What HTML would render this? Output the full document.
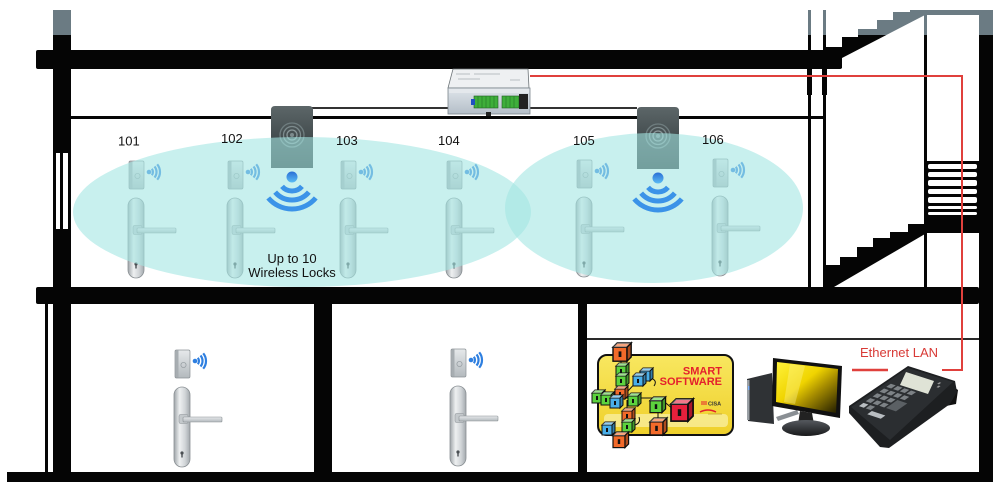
<!DOCTYPE html>
<html><head><meta charset="utf-8">
<style>html,body{margin:0;padding:0;background:#fff;width:1000px;height:488px;overflow:hidden}svg{display:block}</style>
</head>
<body>
<svg width="1000" height="488" viewBox="0 0 1000 488" xmlns="http://www.w3.org/2000/svg" xmlns:xlink="http://www.w3.org/1999/xlink" font-family="'Liberation Sans', Arial, sans-serif">
<defs>
 <linearGradient id="st" gradientUnits="userSpaceOnUse" x1="0" y1="0" x2="0" y2="488">
  <stop offset="0.0717" stop-color="#6b7b83"/><stop offset="0.0717" stop-color="#050505"/>
 </linearGradient>
 <linearGradient id="silH" x1="0" y1="0" x2="1" y2="0">
  <stop offset="0" stop-color="#9ea4a8"/><stop offset="0.35" stop-color="#eef0f1"/><stop offset="0.7" stop-color="#d0d4d7"/><stop offset="1" stop-color="#a3a9ad"/>
 </linearGradient>
 <linearGradient id="silV" x1="0" y1="0" x2="0" y2="1">
  <stop offset="0" stop-color="#e6e9eb"/><stop offset="1" stop-color="#b3b9bd"/>
 </linearGradient>
 <linearGradient id="blue" x1="0" y1="0" x2="0" y2="1">
  <stop offset="0" stop-color="#2a6fd6"/><stop offset="1" stop-color="#5bbcf4"/>
 </linearGradient>
 <linearGradient id="rdr" x1="0" y1="0" x2="0" y2="1">
  <stop offset="0" stop-color="#5c6668"/><stop offset="1" stop-color="#2c3436"/>
 </linearGradient>
 <linearGradient id="card" x1="0" y1="0" x2="0" y2="1">
  <stop offset="0" stop-color="#f8e760"/><stop offset="1" stop-color="#efd02a"/>
 </linearGradient>
 <linearGradient id="scr" x1="0" y1="0" x2="1" y2="1">
  <stop offset="0" stop-color="#fff23a"/><stop offset="0.42" stop-color="#f0d400"/><stop offset="0.62" stop-color="#a88e00"/><stop offset="1" stop-color="#1e1a00"/>
 </linearGradient>
 <linearGradient id="base" x1="0" y1="0" x2="0" y2="1">
  <stop offset="0" stop-color="#55595e"/><stop offset="1" stop-color="#18191b"/>
 </linearGradient>
 <linearGradient id="ctl" x1="0" y1="0" x2="0" y2="1">
  <stop offset="0" stop-color="#dfe5ea"/><stop offset="1" stop-color="#b4bec8"/>
 </linearGradient>

 <g id="lock">
   <rect x="1" y="-37" width="15" height="28" rx="1.5" fill="url(#silV)" stroke="#8c9296" stroke-width="0.7"/>
   <rect x="1.5" y="-36.5" width="3" height="27" fill="#a7adb1"/>
   <circle cx="9.5" cy="-22" r="2.6" fill="none" stroke="#9aa1a5" stroke-width="0.8"/>
   <circle cx="21" cy="-26" r="2.3" fill="#2e7fe0"/>
   <path d="M23.8,-29.2 A5,5 0 0 1 23.8,-22.8 M26.5,-31.5 A8.5,8.5 0 0 1 26.5,-20.5 M29.2,-33.7 A12,12 0 0 1 29.2,-18.3" fill="none" stroke="#2e7fe0" stroke-width="2.2"/>
   <rect x="0" y="0" width="16" height="80" rx="8" fill="url(#silH)" stroke="#8a9094" stroke-width="0.8"/>
   <rect x="5" y="27.5" width="9" height="9" rx="1.5" fill="#c4c9cc" stroke="#8a9094" stroke-width="0.5"/>
   <rect x="9" y="30" width="39" height="5" rx="1" fill="url(#silV)" stroke="#8a9094" stroke-width="0.6"/>
   <circle cx="8" cy="66" r="1.6" fill="#4a4f53"/>
   <rect x="7.3" y="66" width="1.4" height="4.5" fill="#4a4f53"/>
 </g>

 <g id="bigr">
   <path d="M0,4 Q0,0 4,0 L38,0 Q42,0 42,4 L42,62 L0,62 Z" fill="url(#rdr)"/>
   <circle cx="21" cy="29" r="12" fill="none" stroke="#6f7d7f" stroke-width="1.3"/>
   <circle cx="21" cy="29" r="8.5" fill="none" stroke="#7d8b8d" stroke-width="1.3"/>
   <circle cx="21" cy="29" r="5" fill="none" stroke="#8a9799" stroke-width="1.3"/>
   <circle cx="21" cy="29" r="2" fill="#7d8b8d"/>
 </g>

 <g id="bw">
   <circle cx="0" cy="-1" r="5.5" fill="url(#blue)"/>
   <path d="M9.96,8.36 A13,13 0 0 1 -9.96,8.36 M16.85,14.14 A22,22 0 0 1 -16.85,14.14 M23.75,19.93 A31,31 0 0 1 -23.75,19.93" fill="none" stroke="#3b93e8" stroke-width="5"/>
 </g>

 <g id="cube">
   <rect x="0" y="3" width="10" height="10" stroke="#111" stroke-width="1"/>
   <path d="M0,3 L3,0 L13,0 L10,3 Z" stroke="#111" stroke-width="1"/>
   <path d="M0,3 L3,0 L13,0 L10,3 Z" fill="#fff" fill-opacity="0.4"/>
   <path d="M10,3 L13,0 L13,10 L10,13 Z" stroke="#111" stroke-width="1"/>
   <path d="M10,3 L13,0 L13,10 L10,13 Z" fill="#000" fill-opacity="0.28"/>
   <rect x="4" y="6" width="2" height="4" fill="#111"/>
 </g>
</defs>

<rect width="1000" height="488" fill="#fff"/>

<!-- ===== structure ===== -->
<g fill="url(#st)">
  <rect x="53" y="10" width="18" height="472"/>
  <rect x="36" y="50" width="806" height="19" rx="2"/>
  <rect x="71" y="116" width="754" height="3"/>
  <!-- double vertical lines -->
  <rect x="808" y="10" width="3" height="278"/>
  <rect x="823" y="10" width="3" height="278"/>
  <rect x="807" y="68" width="5" height="27"/>
  <rect x="822" y="68" width="5" height="27"/>
  <!-- upper stair -->
  <polygon points="825,47 842,47 842,37 858,37 858,29 877,29 877,20 893,20 893,12 910,12 910,10 925,10 925,15 842,58 842,68 825,68"/>
  <rect x="910" y="10" width="83" height="5"/>
  <rect x="924" y="13" width="3" height="275"/>
  <rect x="979" y="10" width="14" height="472"/>
  <!-- grille -->
  <rect x="925" y="161" width="54" height="72"/>
  <!-- lower stair -->
  <polygon points="824,287 824,265 840,265 840,257 857,257 857,247 873,247 873,238 890,238 890,232 908,232 908,224 925,224 925,234 834,287"/>
  <!-- middle slab -->
  <rect x="36" y="287" width="943" height="17" rx="2"/>
  <rect x="45" y="303" width="3" height="170"/>
  <rect x="7" y="472" width="986" height="10"/>
  <rect x="314" y="303" width="18" height="170"/>
  <rect x="578" y="303" width="9" height="170"/>
</g>
<!-- grille slits -->
<g fill="#fff">
  <rect x="928" y="164" width="49" height="5" rx="2"/>
  <rect x="928" y="172" width="49" height="5" rx="2"/>
  <rect x="928" y="180" width="49" height="6" rx="2"/>
  <rect x="928" y="189" width="49" height="5" rx="2"/>
  <rect x="928" y="197" width="49" height="6" rx="2"/>
  <rect x="928" y="206" width="49" height="3" rx="1.5"/>
  <rect x="928" y="212" width="49" height="3" rx="1.5"/>
</g>
<!-- window slits left -->
<rect x="56" y="153" width="4" height="76" fill="#fff"/>
<rect x="63" y="153" width="5" height="76" fill="#fff"/>

<!-- lower right room line -->
<rect x="587" y="338" width="392" height="2" fill="#2a2a2a"/>

<!-- cable lines -->
<rect x="312" y="107" width="136" height="2" fill="#333"/>
<rect x="529" y="107" width="108" height="2" fill="#333"/>

<!-- controller -->
<g>
  <path d="M453,69 L528,69 L529,88 L448,88 Z" fill="#eef0f2" stroke="#6d7478" stroke-width="0.8"/>
  <path d="M456,74 L470,74 M474,74 L500,74 M458,79 L480,79 M510,80 L520,80" stroke="#a7adb2" stroke-width="0.8"/>
  <rect x="448" y="88" width="82" height="26" fill="url(#ctl)" stroke="#7c858c" stroke-width="0.8"/>
  <rect x="449" y="89" width="80" height="4" fill="#e4e8ec"/>
  <rect x="474" y="96" width="24" height="12" fill="#3eae3a" stroke="#1f5e1f" stroke-width="0.6"/>
  <rect x="502" y="96" width="17" height="12" fill="#3eae3a" stroke="#1f5e1f" stroke-width="0.6"/>
  <path d="M478,96 V108 M482,96 V108 M486,96 V108 M490,96 V108 M494,96 V108 M506,96 V108 M510,96 V108 M514,96 V108" stroke="#2a7d28" stroke-width="0.7"/>
  <rect x="519" y="94" width="9" height="15" fill="#222"/>
  <rect x="471" y="99" width="4" height="6" fill="#2050c0"/>
  <rect x="486" y="112" width="5" height="4" fill="#222"/>
</g>

<!-- locks upper -->
<use xlink:href="#lock" href="#lock" x="128" y="198"/>
<use xlink:href="#lock" href="#lock" x="227" y="198"/>
<use xlink:href="#lock" href="#lock" x="340" y="198"/>
<use xlink:href="#lock" href="#lock" x="446" y="198"/>
<use xlink:href="#lock" href="#lock" x="576" y="197"/>
<use xlink:href="#lock" href="#lock" x="712" y="196"/>
<!-- locks lower -->
<use xlink:href="#lock" href="#lock" x="174" y="387"/>
<use xlink:href="#lock" href="#lock" x="450" y="386"/>

<!-- big readers -->
<use xlink:href="#bigr" href="#bigr" x="271" y="106"/>
<use xlink:href="#bigr" href="#bigr" x="637" y="107"/>

<!-- coverage ellipses -->
<ellipse cx="302" cy="212" rx="229" ry="75" fill="#a3e6e3" fill-opacity="0.6"/>
<ellipse cx="654" cy="208" rx="149" ry="75" fill="#a3e6e3" fill-opacity="0.6"/>

<!-- big wifi -->
<use xlink:href="#bw" href="#bw" transform="translate(292,178)"/>
<use xlink:href="#bw" href="#bw" transform="translate(658,179)"/>

<!-- labels -->
<g font-size="13" fill="#111">
  <text x="118" y="145.5">101</text>
  <text x="221" y="143">102</text>
  <text x="336" y="145">103</text>
  <text x="438" y="145">104</text>
  <text x="573" y="145">105</text>
  <text x="702" y="144">106</text>
  <text x="292" y="263" text-anchor="middle">Up to 10</text>
  <text x="292" y="277" text-anchor="middle">Wireless Locks</text>
</g>

<!-- red ethernet line -->
<polyline points="530,76 962,76 962,370 942,370" fill="none" stroke="#e0403c" stroke-width="2"/>
<line x1="852" y1="370" x2="888" y2="370" stroke="#e0403c" stroke-width="2.5"/>
<text x="860" y="357" font-size="13" fill="#d83a36">Ethernet LAN</text>

<!-- smart software card -->
<g>
  <rect x="598" y="355" width="135" height="80" rx="9" fill="url(#card)" stroke="#111" stroke-width="2"/>
  <rect x="604" y="414" width="124" height="13" rx="4" fill="#f9ee9e" fill-opacity="0.8"/>
  <text x="722" y="374.5" font-size="11" font-weight="bold" fill="#e4202c" text-anchor="end">SMART</text>
  <text x="722" y="385" font-size="11" font-weight="bold" fill="#e4202c" text-anchor="end">SOFTWARE</text>
  <path d="M701,402 h6 M701,404 h6" stroke="#e4202c" stroke-width="1"/>
  <text x="708" y="405.5" font-size="5.5" font-weight="bold" fill="#333">CISA</text>
  <path d="M700,412 q8,-4 16,0" stroke="#e4202c" stroke-width="1.5" fill="none"/>
  <path d="M708,414 h14" stroke="#c0a030" stroke-width="0.8"/>
  <!-- connectors -->
  <g stroke="#111" stroke-width="1" fill="none">
    <path d="M621,360 V392"/>
    <path d="M627,392 L640,378"/>
    <path d="M650,378 q8,2 4,8"/>
    <path d="M612,398 H660 L674,410"/>
    <path d="M627,400 V432"/>
    <path d="M607,430 L620,440"/>
    <path d="M635,425 q6,-2 4,-8"/>
    <path d="M658,412 V422"/>
  </g>
  <use xlink:href="#cube" href="#cube" transform="translate(613,343) scale(1.4)" fill="#f26a2a"/>
  <use xlink:href="#cube" href="#cube" transform="translate(616,363)" fill="#5cd23e"/>
  <use xlink:href="#cube" href="#cube" transform="translate(616,373)" fill="#5cd23e"/>
  <use xlink:href="#cube" href="#cube" transform="translate(640,368)" fill="#49aee8"/>
  <use xlink:href="#cube" href="#cube" transform="translate(633,373)" fill="#49aee8"/>
  <use xlink:href="#cube" href="#cube" transform="translate(615,386)" fill="#f26a2a"/>
  <use xlink:href="#cube" href="#cube" transform="translate(592,390)" fill="#5cd23e"/>
  <use xlink:href="#cube" href="#cube" transform="translate(601,392)" fill="#5cd23e"/>
  <use xlink:href="#cube" href="#cube" transform="translate(610,395)" fill="#49aee8"/>
  <use xlink:href="#cube" href="#cube" transform="translate(628,393)" fill="#5cd23e"/>
  <use xlink:href="#cube" href="#cube" transform="translate(650,397) scale(1.2)" fill="#5cd23e"/>
  <use xlink:href="#cube" href="#cube" transform="translate(671,399) scale(1.7)" fill="#e8203c"/>
  <use xlink:href="#cube" href="#cube" transform="translate(622,408)" fill="#f26a2a"/>
  <use xlink:href="#cube" href="#cube" transform="translate(622,419)" fill="#5cd23e"/>
  <use xlink:href="#cube" href="#cube" transform="translate(650,418) scale(1.3)" fill="#f26a2a"/>
  <use xlink:href="#cube" href="#cube" transform="translate(602,422)" fill="#49aee8"/>
  <use xlink:href="#cube" href="#cube" transform="translate(613,432) scale(1.2)" fill="#f26a2a"/>
</g>

<!-- monitor -->
<g>
  <polygon points="747,379 772,373 774,424 748,421" fill="#2f3235"/>
  <rect x="747" y="380" width="2.5" height="40" fill="#9aa0a5"/>
  <rect x="748" y="386" width="1.5" height="4" fill="#7fb4ff"/>
  <polygon points="776,417 797,410 799,414 778,421" fill="#8a8f94"/>
  <polygon points="773,358 842,366 840,418 772,406" fill="#111"/>
  <polygon points="777,362 838,369 836,413 776,402" fill="url(#scr)"/>
  <polygon points="790,364 805,366 795,404 784,402" fill="#fff6a0" fill-opacity="0.35"/>
  <polygon points="800,411 812,413 814,424 798,424" fill="#222"/>
  <ellipse cx="806" cy="428" rx="24" ry="8" fill="url(#base)"/>
</g>

<!-- keypad terminal -->
<g>
  <polygon points="948,383 958,390 956,404 946,406" fill="#111"/>
  <polygon points="908,366 955,381 957,392 950,404 889,448 880,447 849,413 849,406" fill="#1d1f21"/>
  <polygon points="908,368 953,382 890,440 851,407" fill="#2b2e31"/>
  <polygon points="906,372 934,381 928,394 900,385" fill="#dfe3d6"/>
  <g transform="matrix(0.45,0.15,-0.57,0.40,908,367)" fill="#7d8286">
    <rect x="10" y="38" width="11" height="8"/><rect x="25" y="38" width="11" height="8"/><rect x="40" y="38" width="11" height="8"/><rect x="55" y="38" width="11" height="8"/>
    <rect x="10" y="50" width="11" height="8"/><rect x="25" y="50" width="11" height="8"/><rect x="40" y="50" width="11" height="8"/><rect x="55" y="50" width="11" height="8"/>
    <rect x="10" y="62" width="11" height="8"/><rect x="25" y="62" width="11" height="8"/><rect x="40" y="62" width="11" height="8"/><rect x="55" y="62" width="22" height="20" fill="#5b6064"/>
    <rect x="10" y="74" width="11" height="8"/><rect x="25" y="74" width="11" height="8"/><rect x="40" y="74" width="11" height="8"/>
    <rect x="10" y="86" width="11" height="8" fill="#b9bec2"/><rect x="25" y="86" width="11" height="8"/><rect x="40" y="95" width="30" height="8" fill="#b9bec2"/>
    <rect x="80" y="8" width="4" height="4" fill="#999"/><rect x="86" y="14" width="4" height="4" fill="#999"/>
  </g>
</g>
</svg>
</body></html>
